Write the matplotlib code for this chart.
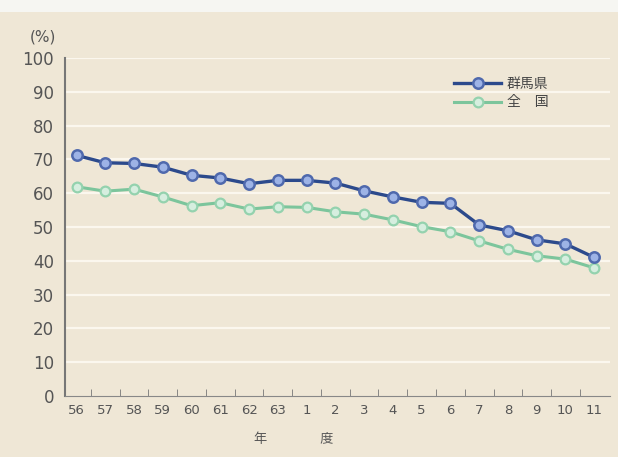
import numpy as np
import matplotlib.pyplot as plt

# fiscal years (Showa 56-63, Heisei 1-11)
years = ['56', '57', '58', '59', '60', '61', '62', '63',
         '1', '2', '3', '4', '5', '6', '7', '8', '9', '10', '11']
gunma = [71.2, 69.0, 68.8, 67.7, 65.3, 64.5, 62.8, 63.8, 63.8, 63.0,
         60.7, 58.9, 57.3, 57.0, 50.6, 48.9, 46.2, 45.0, 41.0]
zenkoku = [61.9, 60.6, 61.2, 58.9, 56.3, 57.2, 55.3, 56.0, 55.8, 54.5,
           53.8, 52.1, 50.1, 48.6, 45.9, 43.4, 41.5, 40.5, 37.9]
yticks = [0, 10, 20, 30, 40, 50, 60, 70, 80, 90, 100]

plt.rcParams['font.family'] = ['Noto Sans CJK JP', 'DejaVu Sans']

bg = '#efe7d6'
fig = plt.figure(figsize=(6.18, 4.57), dpi=100, facecolor=bg)
ax = fig.add_axes([65/618, 1 - 396/457, 545/618, 338/457], facecolor=bg)

x = np.arange(len(years))
ax.plot(x, zenkoku, color='#7cc59c', lw=2.2, marker='o', ms=7,
        mfc='#d6eedf', mec='#94d2ae', mew=1.6, label='全\u3000国', zorder=3)
ax.plot(x, gunma, color='#2c4a8c', lw=2.4, marker='o', ms=7.5,
        mfc='#9db3e6', mec='#4f69ad', mew=1.8, label='群馬県', zorder=4)

ax.set_ylim(0, 100)
ax.set_xlim(-0.4, len(years) - 0.45)
ax.set_yticks(yticks)
ax.set_yticklabels([str(v) for v in yticks], color='#555555', fontsize=12,
                   family='DejaVu Sans')
ax.set_xticks(x)
ax.set_xticklabels(years, color='#555555', fontsize=9.5, family='DejaVu Sans')
ax.tick_params(axis='y', length=0, pad=8)
ax.tick_params(axis='x', length=0, pad=6)
ax.set_xticks(x[:-1] + 0.5, minor=True)
ax.tick_params(axis='x', which='minor', direction='in', length=5, color='#777777')

for v in yticks[1:]:
    ax.axhline(v, color='#fbf7ee', lw=1.6, zorder=1)

for s in ['top', 'right']:
    ax.spines[s].set_visible(False)
ax.spines['left'].set_color('#777777')
ax.spines['bottom'].set_color('#888888')
ax.spines['left'].set_linewidth(1.5)

ax.text(-0.065, 1.062, '(%)', transform=ax.transAxes, fontsize=11,
        color='#555555', family='DejaVu Sans', va='center')
ax.text(0.42, -0.13, '年\u3000\u3000\u3000\u3000度', transform=ax.transAxes,
        fontsize=9.5, color='#555555', ha='center', va='center')

h, l = ax.get_legend_handles_labels()
leg = ax.legend(h[::-1], l[::-1], loc='upper right', bbox_to_anchor=(0.91, 0.98),
                frameon=False, fontsize=10, handlelength=3.4, labelspacing=0.3,
                handletextpad=0.4)
for t in leg.get_texts():
    t.set_color('#444444')

# faded strip at the top of the scan
fig.patches.append(plt.Rectangle((0, 1 - 12/457), 1, 12/457, transform=fig.transFigure,
                                 facecolor='#f6f6f2', edgecolor='none'))

fig.savefig('out.png', dpi=100, facecolor=bg)
